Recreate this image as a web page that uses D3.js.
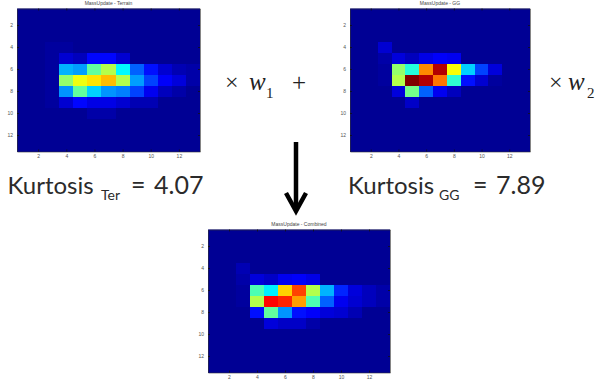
<!DOCTYPE html>
<html><head><meta charset="utf-8">
<script src="https://cdn.jsdelivr.net/npm/d3@7/dist/d3.min.js"></script>
<style>body{margin:0;background:#fff}svg{display:block}</style>
</head><body>
<script>
// Colour values (percent of the jet colour range), rows 1..13, columns 1..13
const terrain = [
 [2,2,2,2,2,2,2,2,2,2,2,2,2],
 [2,2,2,2,2,2,2,2,2,2,2,2,2],
 [2,2,2,2,2,2,2,2,2,2,2,2,2],
 [2,2,3,3,2,2,2,2,2,2,2,2,2],
 [2,2,3,8,6,13,13,8,2,2,2,2,2],
 [2,2,3,30,28,47,55,37,22,14,8,5,4],
 [2,2,3,52,61,65,69,55,28,19,12,9,4],
 [2,2,3,27,47,33,27,25,19,11,6,4,2],
 [2,2,3,8,13,10,10,8,5,5,2,2,2],
 [2,2,2,2,2,4,4,2,2,2,2,2,2],
 [2,2,2,2,2,2,2,2,2,2,2,2,2],
 [2,2,2,2,2,2,2,2,2,2,2,2,2],
 [2,2,2,2,2,2,2,2,2,2,2,2,2]
];
const gg = [
 [2,2,2,2,2,2,2,2,2,2,2,2,2],
 [2,2,2,2,2,2,2,2,2,2,2,2,2],
 [2,2,2,2,2,2,2,2,2,2,2,2,2],
 [2,2,8,2,2,2,2,2,2,2,2,2,2],
 [2,2,4,9,6,10,12,11,2,2,2,2,2],
 [2,2,3,52,41,74,95,62,33,19,9,2,2],
 [2,2,3,55,100,95,76,42,14,8,3,2,2],
 [2,2,2,9,49,22,11,6,2,2,2,2,2],
 [2,2,2,2,7,2,2,2,2,2,2,2,2],
 [2,2,2,2,2,2,2,2,2,2,2,2,2],
 [2,2,2,2,2,2,2,2,2,2,2,2,2],
 [2,2,2,2,2,2,2,2,2,2,2,2,2],
 [2,2,2,2,2,2,2,2,2,2,2,2,2]
];
const combined = [
 [2,2,2,2,2,2,2,2,2,2,2,2,2],
 [2,2,2,2,2,2,2,2,2,2,2,2,2],
 [2,2,2,2,2,2,2,2,2,2,2,2,2],
 [2,2,5,2,2,2,2,2,2,2,2,2,2],
 [2,2,4,9,7,11,12,10,2,2,2,2,2],
 [2,2,3,45,36,67,81,55,30,16,9,6,4],
 [2,2,3,55,87,84,72,45,22,11,8,6,4],
 [2,2,2,14,47,27,14,12,9,8,5,2,2],
 [2,2,2,2,9,7,7,4,2,2,2,2,2],
 [2,2,2,2,2,2,2,2,2,2,2,2,2],
 [2,2,2,2,2,2,2,2,2,2,2,2,2],
 [2,2,2,2,2,2,2,2,2,2,2,2,2],
 [2,2,2,2,2,2,2,2,2,2,2,2,2]
];
const tickLabels = [2,4,6,8,10,12];
const titles = ["MassUpdate - Terrain","MassUpdate - GG","MassUpdate - Combined"];
const kurtLabels = [{sub:"Ter", val:"4.07"},{sub:"GG", val:"7.89"}];
const weightLabels = ["1","2"];

function jet(v){
  v = Math.max(0, Math.min(1, v));
  let r,g,b;
  if (v < 0.125){ r=0; g=0; b=0.5+4*v; }
  else if (v < 0.375){ r=0; g=4*(v-0.125); b=1; }
  else if (v < 0.625){ r=4*(v-0.375); g=1; b=1-4*(v-0.375); }
  else if (v < 0.875){ r=1; g=1-4*(v-0.625); b=0; }
  else { r=1-4*(v-0.875); g=0; b=0; }
  return d3.rgb(r*255, g*255, b*255).toString();
}
const color = d3.scaleLinear().domain([0,100]).range([0,1]);

const svg = d3.select("body").append("svg").attr("width",601).attr("height",379);
svg.append("rect").attr("width",601).attr("height",379).attr("fill","#fff");

function heatmap(data, title, x0, x1, y0, y1){
  const x = d3.scaleLinear().domain([0.5,13.5]).range([x0,x1]);
  const y = d3.scaleLinear().domain([0.5,13.5]).range([y0,y1]);
  const g = svg.append("g");
  g.append("rect").attr("x",x0).attr("y",y0).attr("width",x1-x0).attr("height",y1-y0)
    .attr("fill",jet(color(2)));
  const cells = [];
  data.forEach((row,ri)=>row.forEach((v,ci)=>cells.push({r:ri+1,c:ci+1,v})));
  g.selectAll("rect.cell").data(cells).enter().append("rect")
    .attr("x",d=>x(d.c-0.5)).attr("y",d=>y(d.r-0.5))
    .attr("width",d=>x(d.c+0.5)-x(d.c-0.5))
    .attr("height",d=>y(d.r+0.5)-y(d.r-0.5))
    .attr("shape-rendering","crispEdges")
    .attr("fill",d=>jet(color(d.v)));
  const style = sel => {
    sel.selectAll("text").attr("font-size","5px").attr("font-family","Liberation Sans, Arial, sans-serif").attr("fill","#555");
    sel.selectAll("line").attr("stroke","#111").attr("stroke-width",0.8);
    sel.select(".domain").attr("stroke","#333").attr("stroke-width",0.6);
  };
  g.append("g").attr("transform",`translate(0,${y1})`)
    .call(d3.axisBottom(x).tickValues(tickLabels).tickSizeInner(-2).tickSizeOuter(0).tickPadding(3)).call(style);
  g.append("g").attr("transform",`translate(${x0},0)`)
    .call(d3.axisLeft(y).tickValues(tickLabels).tickSizeInner(-2).tickSizeOuter(0).tickPadding(4)).call(style);
  g.append("g").attr("transform",`translate(0,${y0})`)
    .call(d3.axisTop(x).tickValues(tickLabels).tickSizeInner(-2).tickSizeOuter(0).tickFormat("")).call(style);
  g.append("g").attr("transform",`translate(${x1},0)`)
    .call(d3.axisRight(y).tickValues(tickLabels).tickSizeInner(-2).tickSizeOuter(0).tickFormat("")).call(style);
  g.append("text").attr("x",(x0+x1)/2).attr("y",y0-3.5).attr("text-anchor","middle")
    .attr("font-size","5px").attr("font-family","Liberation Sans, Arial, sans-serif").attr("fill","#444").text(title);
}

heatmap(terrain, titles[0], 17, 200, 8.5, 151.5);
heatmap(gg, titles[1], 350, 530, 8.5, 151.5);
heatmap(combined, titles[2], 208, 390, 229.5, 372.5);

// Kurtosis labels
const kf = "Lato, 'Noto Sans', sans-serif";
const kpos = [{k:7.5, s:101, e:131, v:154}, {k:348, s:439, e:473, v:496}];
kurtLabels.forEach((d,i)=>{
  const p = kpos[i];
  const t = svg.append("g").attr("font-family",kf).attr("fill","#2b2b2b").attr("font-weight",400);
  t.append("text").attr("x",p.k).attr("y",194).attr("font-size","24px").text("Kurtosis");
  t.append("text").attr("x",p.s).attr("y",200).attr("font-size","14px").text(d.sub);
  t.append("text").attr("x",p.e).attr("y",194).attr("font-size","25px").text("=");
  t.append("text").attr("x",p.v).attr("y",194).attr("font-size","25px").text(d.val);
});

// Weight expressions
const mf = "'Liberation Serif', 'Times New Roman', serif";
const wpos = [{t:225, w:249, s:266}, {t:549, w:568, s:587}];
weightLabels.forEach((d,i)=>{
  const p = wpos[i];
  const g = svg.append("g").attr("font-family",mf).attr("fill","#222");
  g.append("text").attr("x",p.t).attr("y",90).attr("font-size","24px").text("\u00d7");
  g.append("text").attr("x",p.w).attr("y",90).attr("font-size","25px").attr("font-style","italic").text("w");
  g.append("text").attr("x",p.s).attr("y",98).attr("font-size","15px").text(d);
});
svg.append("text").attr("x",292).attr("y",91).attr("font-family",mf).attr("font-size","25px").attr("fill","#222").text("+");

// Arrow
svg.append("line").attr("x1",296).attr("x2",296).attr("y1",142).attr("y2",210)
  .attr("stroke","#000").attr("stroke-width",4.5);
svg.append("path").attr("d","M286,193 L296,211 L306,193").attr("fill","none")
  .attr("stroke","#000").attr("stroke-width",4.5).attr("stroke-linejoin","miter");
</script>
</body></html>
